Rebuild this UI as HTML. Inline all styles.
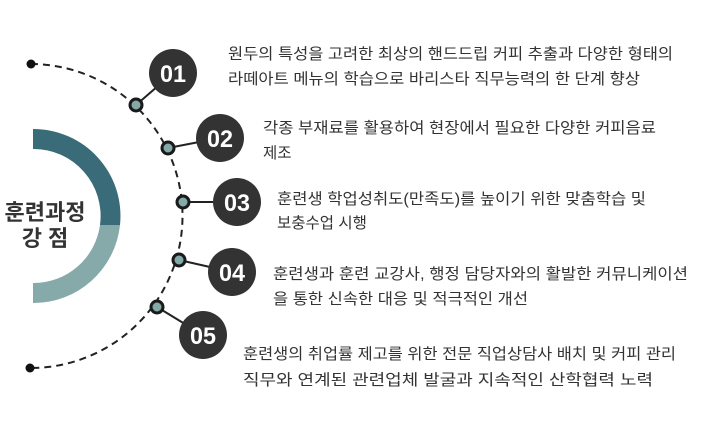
<!DOCTYPE html>
<html><head><meta charset="utf-8"><style>
html,body{margin:0;padding:0;background:#fff;}
svg{display:block}
text{font-family:"Liberation Sans","Noto Sans CJK KR",sans-serif;}
.t{font-size:15.5px;fill:#333;}
.n{font-size:24px;font-weight:bold;fill:#fff;font-family:"Liberation Sans",sans-serif;}
</style></head><body>
<svg width="704" height="428" viewBox="0 0 704 428">
<path d="M33 129 A87 87 0 0 1 120 225 L100 225 A67 67 0 0 0 33 149 Z" fill="#3a6b78"/>
<path d="M120 225 A87 87 0 0 1 33 303 L33 283 A67 67 0 0 0 100 225 Z" fill="#86aaa9"/>
<text x="45" y="220" text-anchor="middle" font-size="22" font-weight="bold" fill="#333">훈련과정</text>
<text x="45" y="246" text-anchor="middle" font-size="22" font-weight="bold" fill="#333">강 점</text>
<path d="M31 64 A152 152 0 0 1 30 368" fill="none" stroke="#222" stroke-width="2" stroke-dasharray="7,5"/>
<circle cx="31" cy="64" r="4.5" fill="#111"/>
<circle cx="30" cy="368" r="4.5" fill="#111"/>
<g stroke="#222" stroke-width="2">
<line x1="136" y1="105" x2="173" y2="73"/>
<line x1="168" y1="148" x2="220" y2="138"/>
<line x1="183" y1="202" x2="237" y2="202"/>
<line x1="179" y1="260" x2="232" y2="272"/>
<line x1="157" y1="307" x2="203" y2="335"/>
</g>
<g fill="#333">
<circle cx="173" cy="73" r="24"/>
<circle cx="220" cy="138" r="24"/>
<circle cx="237" cy="202" r="24"/>
<circle cx="232" cy="272" r="24"/>
<circle cx="203" cy="335" r="24"/>
</g>
<g fill="#84a9a9" stroke="#1a1a1a" stroke-width="3">
<circle cx="136" cy="105" r="6"/>
<circle cx="168" cy="148" r="6"/>
<circle cx="183" cy="202" r="6"/>
<circle cx="179" cy="260" r="6"/>
<circle cx="157" cy="307" r="6"/>
</g>
<g class="n" text-anchor="middle">
<text x="173" y="82" textLength="26" lengthAdjust="spacingAndGlyphs">01</text>
<text x="220" y="147" textLength="26" lengthAdjust="spacingAndGlyphs">02</text>
<text x="237" y="211" textLength="26" lengthAdjust="spacingAndGlyphs">03</text>
<text x="232" y="281" textLength="26" lengthAdjust="spacingAndGlyphs">04</text>
<text x="203" y="344" textLength="26" lengthAdjust="spacingAndGlyphs">05</text>
</g>
<g class="t">
<text x="228" y="59" textLength="445" lengthAdjust="spacingAndGlyphs">원두의 특성을 고려한 최상의 핸드드립 커피 추출과 다양한 형태의</text>
<text x="228" y="84" textLength="412" lengthAdjust="spacingAndGlyphs">라떼아트 메뉴의 학습으로 바리스타 직무능력의 한 단계 향상</text>
<text x="263" y="133" textLength="393" lengthAdjust="spacingAndGlyphs">각종 부재료를 활용하여 현장에서 필요한 다양한 커피음료</text>
<text x="263" y="158">제조</text>
<text x="277" y="204" textLength="369" lengthAdjust="spacingAndGlyphs">훈련생 학업성취도(만족도)를 높이기 위한 맞춤학습 및</text>
<text x="277" y="228">보충수업 시행</text>
<text x="273" y="279" textLength="415" lengthAdjust="spacingAndGlyphs">훈련생과 훈련 교강사, 행정 담당자와의 활발한 커뮤니케이션</text>
<text x="273" y="304" textLength="255" lengthAdjust="spacingAndGlyphs">을 통한 신속한 대응 및 적극적인 개선</text>
<text x="243" y="359" textLength="433" lengthAdjust="spacingAndGlyphs">훈련생의 취업률 제고를 위한 전문 직업상담사 배치 및 커피 관리</text>
<text x="243" y="385" textLength="410" lengthAdjust="spacingAndGlyphs">직무와 연계된 관련업체  발굴과 지속적인 산학협력 노력</text>
</g>
</svg>
</body></html>
